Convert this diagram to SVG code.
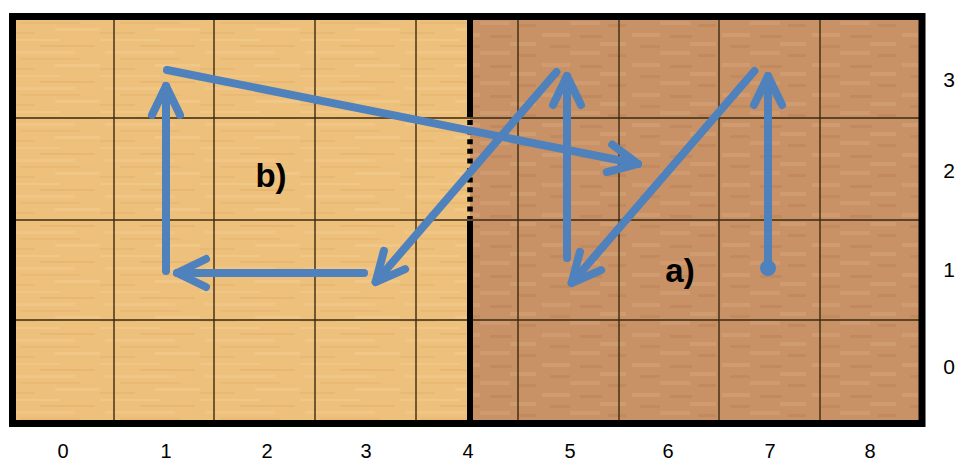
<svg xmlns="http://www.w3.org/2000/svg" width="958" height="463" viewBox="0 0 958 463">
  <style>
    .grid { stroke: #3b2a12; stroke-width: 1.4; fill: none; }
    .path { stroke: #4F81BD; stroke-width: 8; fill: none; stroke-linecap: round; stroke-linejoin: round; }
    .axis { font-family: "Liberation Sans", Arial, sans-serif; font-size: 21px; fill: #000; text-anchor: middle; }
    .axis-b { font-size: 20px; }
    .tag { font-family: "Liberation Sans", Arial, sans-serif; font-size: 33px; font-weight: bold; fill: #000; text-anchor: middle; }
  </style>
  <defs>
    <pattern id="woodLight" patternUnits="userSpaceOnUse" width="100" height="36">
      <rect width="100" height="36" fill="#EDC07C"/>
      <rect x="0" y="3" width="60" height="2" fill="#F3CB8D" opacity="0.7"/>
      <rect x="40" y="9" width="55" height="2" fill="#E4B16C" opacity="0.55"/>
      <rect x="5" y="15" width="70" height="3" fill="#F2C889" opacity="0.7"/>
      <rect x="20" y="22" width="60" height="2" fill="#E5B36E" opacity="0.55"/>
      <rect x="55" y="28" width="45" height="3" fill="#F3CB8D" opacity="0.7"/>
      <rect x="0" y="32" width="35" height="2" fill="#E4B16C" opacity="0.5"/>
    </pattern>
    <pattern id="woodDark" patternUnits="userSpaceOnUse" width="90" height="30">
      <rect width="90" height="30" fill="#C89266"/>
      <rect x="2" y="3" width="28" height="4" fill="#D3A074" opacity="0.7"/>
      <rect x="40" y="5" width="22" height="3" fill="#BB8558" opacity="0.6"/>
      <rect x="60" y="12" width="26" height="4" fill="#D2A073" opacity="0.7"/>
      <rect x="10" y="15" width="20" height="3" fill="#BC8759" opacity="0.6"/>
      <rect x="30" y="21" width="30" height="4" fill="#D3A074" opacity="0.6"/>
      <rect x="68" y="24" width="18" height="3" fill="#BB8558" opacity="0.6"/>
    </pattern>
    <marker id="chev" markerUnits="userSpaceOnUse" viewBox="-36 -20 42 40" refX="0" refY="0" markerWidth="42" markerHeight="40" orient="auto" overflow="visible">
      <path d="M -29 -14 L 0 0 L -29 14" fill="none" stroke="#4F81BD" stroke-width="8" stroke-linecap="round" stroke-linejoin="round"/>
    </marker>
  </defs>

  <g id="floor">
    <rect x="16" y="20" width="454" height="400" fill="url(#woodLight)"/>
    <rect x="470" y="20" width="449" height="400" fill="url(#woodDark)"/>
  </g>

  <g id="grid" class="grid">
    <line x1="114" y1="20" x2="114" y2="420"/>
    <line x1="214" y1="20" x2="214" y2="420"/>
    <line x1="315" y1="20" x2="315" y2="420"/>
    <line x1="416" y1="20" x2="416" y2="420"/>
    <line x1="518" y1="20" x2="518" y2="420"/>
    <line x1="619" y1="20" x2="619" y2="420"/>
    <line x1="719" y1="20" x2="719" y2="420"/>
    <line x1="820" y1="20" x2="820" y2="420"/>
    <line x1="16" y1="118" x2="919" y2="118"/>
    <line x1="16" y1="220" x2="919" y2="220"/>
    <line x1="16" y1="320" x2="919" y2="320"/>
  </g>

  <g id="walls">
    <rect x="12.5" y="16.5" width="909.5" height="407" fill="none" stroke="#000" stroke-width="7"/>
    <line x1="470" y1="20" x2="470" y2="117" stroke="#000" stroke-width="6"/>
    <line x1="470" y1="120" x2="470" y2="219" stroke="#000" stroke-width="5.5" stroke-dasharray="5 4.6"/>
    <line x1="470" y1="221" x2="470" y2="420" stroke="#000" stroke-width="6"/>
  </g>

  <g id="connectors">
    <g id="path-a">
      <circle cx="768" cy="268" r="8" fill="#4F81BD"/>
      <line class="path" x1="768" y1="268" x2="768" y2="76" marker-end="url(#chev)"/>
      <line class="path" x1="754.4" y1="71" x2="571.6" y2="283" marker-end="url(#chev)"/>
      <line class="path" x1="567" y1="258" x2="567" y2="76" marker-end="url(#chev)"/>
      <line class="path" x1="556.4" y1="72" x2="375.6" y2="282" marker-end="url(#chev)"/>
    </g>
    <g id="path-b">
      <line class="path" x1="364" y1="273" x2="177" y2="273" marker-end="url(#chev)"/>
      <line class="path" x1="166" y1="271" x2="166" y2="86" marker-end="url(#chev)"/>
      <line class="path" x1="167" y1="70" x2="638" y2="164" marker-end="url(#chev)"/>
    </g>
  </g>

  <g id="labels">
    <text class="tag" x="271" y="187">b)</text>
    <text class="tag" x="680" y="282">a)</text>
  </g>

  <g id="axis-x" class="axis axis-b">
    <text x="63" y="458">0</text>
    <text x="166" y="458">1</text>
    <text x="267" y="458">2</text>
    <text x="366" y="458">3</text>
    <text x="468" y="458">4</text>
    <text x="570" y="458">5</text>
    <text x="668" y="458">6</text>
    <text x="770" y="458">7</text>
    <text x="870" y="458">8</text>
  </g>
  <g id="axis-y" class="axis">
    <text x="949" y="87">3</text>
    <text x="949" y="178">2</text>
    <text x="949" y="277">1</text>
    <text x="949" y="374">0</text>
  </g>
</svg>
